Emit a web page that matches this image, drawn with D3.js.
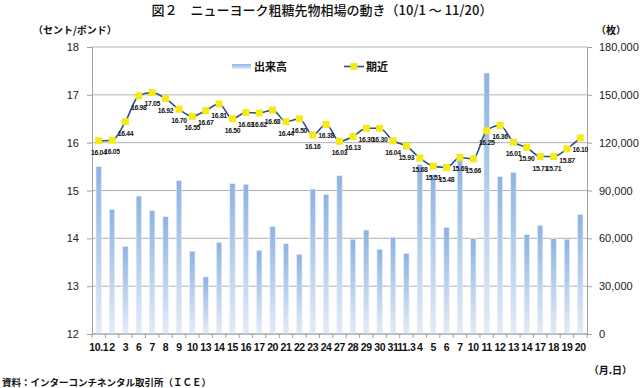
<!DOCTYPE html>
<html>
<head>
<meta charset="utf-8">
<script src="https://cdn.jsdelivr.net/npm/d3@7"></script>
<style>
  body { margin: 0; background: #fff; }
  svg text { font-family: "Liberation Sans", Arial, "Noto Sans CJK JP", sans-serif; }
  .jp { font-family: "Noto Sans CJK JP", sans-serif; }
</style>
</head>
<body>
<div id="chart"></div>
<script>
// dates (month.day)
var dates = ["10.1","2","3","6","7","8","9","10","13","14","15","16","17","20","21","22","23","24","27","28","29","30","31",
             "11.3","4","5","6","7","10","11","12","13","14","17","18","19","20"];
// 期近 (cents/lb)
var prices = [16.04,16.05,16.44,16.98,17.05,16.92,16.70,16.55,16.67,16.81,16.50,16.63,16.62,16.68,16.44,16.50,16.16,16.38,16.03,16.13,16.30,16.30,
              16.04,15.93,15.68,15.51,15.48,15.69,15.66,16.25,16.36,16.01,15.90,15.71,15.71,15.87,16.10];
// 出来高 (lots)
var volumes = [105000,78000,55000,86500,77300,73600,96200,51900,35800,57500,94300,93900,52500,67300,56600,50000,90900,87600,99300,59400,65200,53100,
               60700,50600,106400,100000,66900,110000,59800,163700,98700,101400,62300,68200,59800,59400,75000];
var leftTicks = [12,13,14,15,16,17,18];
var rightTicks = [0,30000,60000,90000,120000,150000,180000];

var width = 640, height = 388;
var plot = { left: 92, right: 587, top: 47, bottom: 334 };

var svg = d3.select("#chart").append("svg")
    .attr("width", width)
    .attr("height", height);

var defs = svg.append("defs");
var grad = defs.append("linearGradient")
    .attr("id", "barGrad")
    .attr("x1", 0).attr("y1", 0).attr("x2", 0).attr("y2", 1);
grad.append("stop").attr("offset", "0%").attr("stop-color", "#8db3e2");
grad.append("stop").attr("offset", "100%").attr("stop-color", "#e3ecf7");

var x = d3.scaleBand()
    .domain(d3.range(dates.length))
    .range([plot.left, plot.right])
    .paddingInner(0.6)
    .paddingOuter(0.3);

var yL = d3.scaleLinear().domain([12, 18]).range([plot.bottom, plot.top]);
var yR = d3.scaleLinear().domain([0, 180000]).range([plot.bottom, plot.top]);

// gridlines
svg.append("g")
    .selectAll("line")
    .data(leftTicks)
    .enter().append("line")
    .attr("x1", plot.left).attr("x2", plot.right)
    .attr("y1", d => yL(d)).attr("y2", d => yL(d))
    .attr("stroke", "#b0b0b0").attr("stroke-width", 1);

// bars
svg.append("g")
    .selectAll("rect")
    .data(volumes)
    .enter().append("rect")
    .attr("x", (d, i) => x(i))
    .attr("y", d => yR(d))
    .attr("width", x.bandwidth())
    .attr("height", d => plot.bottom - yR(d))
    .attr("fill", "url(#barGrad)")
    .attr("stroke", "#e8eef8")
    .attr("stroke-width", 0.6);

// axes
var axisL = svg.append("g")
    .attr("transform", "translate(" + plot.left + ",0)")
    .call(d3.axisLeft(yL).tickValues(leftTicks).tickSize(5).tickPadding(8).tickFormat(d3.format("d")));
var axisR = svg.append("g")
    .attr("transform", "translate(" + plot.right + ",0)")
    .call(d3.axisRight(yR).tickValues(rightTicks).tickSize(5).tickPadding(7).tickFormat(d3.format(",")));
[axisL, axisR].forEach(function (g) {
    g.select(".domain").attr("stroke", "#a0a0a0");
    g.selectAll(".tick line").attr("stroke", "#a0a0a0");
    g.selectAll(".tick text")
        .attr("fill", "#222")
        .style("font-size", "11px")
        .style("font-family", "'Liberation Sans', Arial, sans-serif");
});

// x axis
var xg = svg.append("g");
xg.append("line")
    .attr("x1", plot.left).attr("x2", plot.right)
    .attr("y1", plot.bottom).attr("y2", plot.bottom)
    .attr("stroke", "#a0a0a0");
xg.selectAll(".xt")
    .data(d3.range(dates.length + 1))
    .enter().append("line")
    .attr("x1", d => plot.left + d * (plot.right - plot.left) / dates.length)
    .attr("x2", d => plot.left + d * (plot.right - plot.left) / dates.length)
    .attr("y1", plot.bottom).attr("y2", plot.bottom + 4)
    .attr("stroke", "#a0a0a0");
xg.selectAll("text")
    .data(dates)
    .enter().append("text")
    .attr("x", (d, i) => x(i) + x.bandwidth() / 2)
    .attr("y", 351)
    .attr("text-anchor", "middle")
    .style("font-size", "10.5px")
    .style("font-weight", "bold")
    .style("letter-spacing", "-0.4px")
    .attr("fill", "#111")
    .text(d => d);

// line
var cx = (d, i) => x(i) + x.bandwidth() / 2;
var line = d3.line()
    .x((d, i) => cx(d, i))
    .y(d => yL(d))
    .curve(d3.curveMonotoneX);
svg.append("path")
    .datum(prices)
    .attr("d", line)
    .attr("fill", "none")
    .attr("stroke", "#2a4f8f")
    .attr("stroke-width", 1.6);

svg.append("g")
    .selectAll("rect")
    .data(prices)
    .enter().append("rect")
    .attr("x", (d, i) => cx(d, i) - 3.5)
    .attr("y", d => yL(d) - 3.5)
    .attr("width", 7).attr("height", 7)
    .attr("fill", "#f5ea14");

svg.append("g")
    .selectAll("text")
    .data(prices)
    .enter().append("text")
    .attr("x", (d, i) => cx(d, i))
    .attr("y", d => yL(d) + 14)
    .attr("text-anchor", "middle")
    .style("font-size", "6.8px")
    .style("font-weight", "bold")
    .style("letter-spacing", "-0.3px")
    .attr("fill", "#111")
    .text(d => d.toFixed(2));

// legend
var lg = svg.append("g");
lg.append("rect").attr("x", 232).attr("y", 64).attr("width", 19).attr("height", 5).attr("fill", "url(#barGrad)");
lg.append("text").attr("class", "jp").attr("x", 254).attr("y", 70.5)
    .style("font-size", "11px").style("font-weight", "bold").attr("fill", "#111").text("出来高");
lg.append("line").attr("x1", 344).attr("x2", 364).attr("y1", 66.5).attr("y2", 66.5)
    .attr("stroke", "#2a4f8f").attr("stroke-width", 1.6);
lg.append("rect").attr("x", 350.5).attr("y", 63).attr("width", 7).attr("height", 7).attr("fill", "#f5ea14");
lg.append("text").attr("class", "jp").attr("x", 366).attr("y", 70.5)
    .style("font-size", "11px").style("font-weight", "bold").attr("fill", "#111").text("期近");

// titles and notes
svg.append("text").attr("class", "jp")
    .attr("x", 322).attr("y", 15)
    .attr("text-anchor", "middle")
    .style("font-size", "13px").style("font-weight", "500").attr("fill", "#111")
    .text("図２　ニューヨーク粗糖先物相場の動き（10/1 ～ 11/20）");
svg.append("text").attr("class", "jp")
    .attr("x", 33).attr("y", 34)
    .style("font-size", "10px").style("font-weight", "bold").attr("fill", "#111")
    .text("（セント/ポンド）");
svg.append("text").attr("class", "jp")
    .attr("x", 596).attr("y", 34)
    .style("font-size", "10px").style("font-weight", "bold").attr("fill", "#111")
    .text("（枚）");
svg.append("text").attr("class", "jp")
    .attr("x", 632).attr("y", 374)
    .attr("text-anchor", "end")
    .style("font-size", "10px").style("font-weight", "bold").attr("fill", "#111")
    .text("（月.日）");
svg.append("text").attr("class", "jp")
    .attr("x", 2).attr("y", 386)
    .style("font-size", "9.5px").style("font-weight", "bold").attr("fill", "#111")
    .text("資料：インターコンチネンタル取引所（ＩＣＥ）");
</script>
</body>
</html>
